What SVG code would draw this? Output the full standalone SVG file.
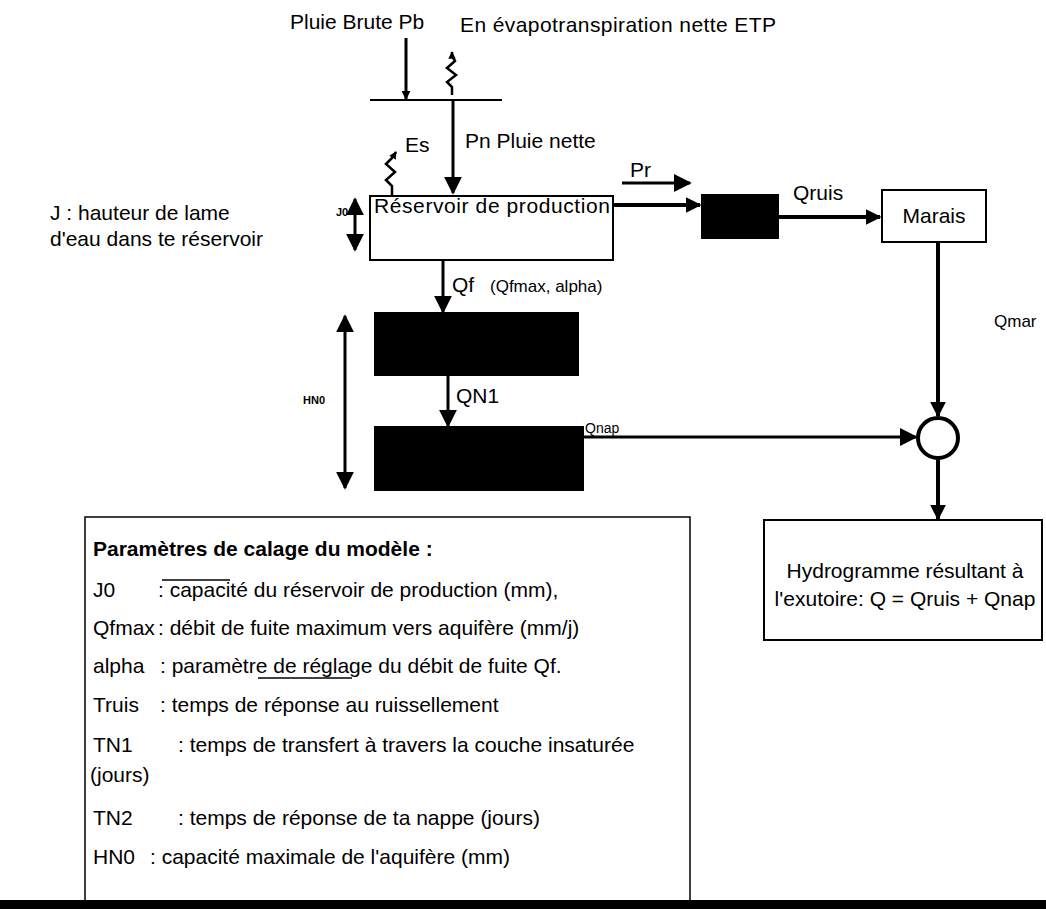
<svg xmlns="http://www.w3.org/2000/svg" width="1046" height="909" viewBox="0 0 1046 909">
<defs>
<style>
text{font-family:"Liberation Sans",Arial,sans-serif;fill:#000}
.t{font-size:21px}
.s{font-size:17px}
.q{font-size:14px}
.xs{font-size:11px;font-weight:bold}
.b{font-weight:bold}
.ln{stroke:#000;fill:none}
.box{fill:#fff;stroke:#000;stroke-width:2}
.blk{fill:#000;stroke:#000;stroke-width:2}
</style>
<marker id="ah" viewBox="0 0 10 10" refX="9" refY="5" markerWidth="4" markerHeight="4" orient="auto-start-reverse" markerUnits="strokeWidth"><path d="M0,0 L10,5 L0,10 z" fill="#000"/></marker>
<marker id="ahs" viewBox="0 0 10 10" refX="9" refY="5" markerWidth="6" markerHeight="6" orient="auto-start-reverse" markerUnits="strokeWidth"><path d="M0,0 L10,5 L0,10 z" fill="#000"/></marker>
<marker id="aht" viewBox="0 0 10 10" refX="9" refY="5" markerWidth="3" markerHeight="3" orient="auto" markerUnits="strokeWidth"><path d="M0,0 L10,5 L0,10 z" fill="#000"/></marker>
</defs>

<g id="inputs">
<text class="t" x="290" y="29">Pluie Brute Pb</text>
<text class="t" x="460" y="32" textLength="316" lengthAdjust="spacing">En évapotranspiration nette ETP</text>
<line class="ln" x1="406" y1="38" x2="406" y2="99" stroke-width="3" marker-end="url(#aht)"/>
<path class="ln" stroke-width="2.5" d="M452,95 L452,87 L447,82 L456,75 L447,68 L455,61 L452,56 L452,52" marker-end="url(#aht)"/>
<line class="ln" x1="370" y1="100" x2="502" y2="100" stroke-width="2"/>
</g>

<g id="reservoir">
<rect class="box" x="370" y="196" width="243" height="64"/>
<text class="t" x="374" y="213" textLength="236" lengthAdjust="spacing">Réservoir de production</text>
<text class="t" x="405" y="152">Es</text>
<path class="ln" stroke-width="2.5" d="M392,196 L392,186 L386,180 L395,172 L386,164 L393,157 L396,152" marker-end="url(#aht)"/>
<text class="t" x="465" y="148">Pn Pluie nette</text>
<text class="xs" x="336" y="216">J0</text>
<line class="ln" x1="355" y1="199" x2="355" y2="250" stroke-width="3" marker-start="url(#ahs)" marker-end="url(#ahs)"/>
<text class="t" x="50" y="220">J : hauteur de lame</text>
<text class="t" x="50" y="246">d'eau dans te réservoir</text>
</g>

<g id="truis">
<rect class="blk" x="702" y="195" width="76" height="43"/>
</g>

<g id="marais">
<rect class="box" x="882" y="190" width="104" height="52"/>
<text class="t" x="934" y="223" text-anchor="middle">Marais</text>
</g>

<g id="nappe1">
<rect class="blk" x="375" y="313" width="203" height="62"/>
</g>

<g id="nappe2">
<rect class="blk" x="375" y="427" width="208" height="63"/>
</g>

<g id="jonction">
<circle cx="938" cy="438" r="20" fill="#fff" stroke="#000" stroke-width="4"/>
</g>

<g id="hydrogramme">
<rect class="box" x="764" y="520" width="278" height="120"/>
<text class="t" x="905" y="578" text-anchor="middle">Hydrogramme résultant à</text>
<text class="t" x="905" y="606" text-anchor="middle">l'exutoire: Q = Qruis + Qnap</text>
</g>

<g id="connecteurs">
<line class="ln" x1="453" y1="100" x2="453" y2="193" stroke-width="3" marker-end="url(#ahs)"/>
<line class="ln" x1="622" y1="183" x2="690" y2="183" stroke-width="3" marker-end="url(#ahs)"/>
<text class="t" x="630" y="177">Pr</text>
<line class="ln" x1="613" y1="205" x2="700" y2="205" stroke-width="4" marker-end="url(#ah)"/>
<line class="ln" x1="778" y1="217" x2="880" y2="217" stroke-width="4" marker-end="url(#ah)"/>
<text class="t" x="793" y="200">Qruis</text>
<line class="ln" x1="938" y1="242" x2="938" y2="416" stroke-width="4" marker-end="url(#ah)"/>
<text class="s" x="994" y="327">Qmar</text>
<line class="ln" x1="583" y1="437" x2="916" y2="437" stroke-width="3" marker-end="url(#ahs)"/>
<text class="q" x="585" y="433">Qnap</text>
<line class="ln" x1="938" y1="458" x2="938" y2="519" stroke-width="4" marker-end="url(#ah)"/>
<line class="ln" x1="443" y1="260" x2="443" y2="312" stroke-width="3" marker-end="url(#ahs)"/>
<text class="t" x="452" y="292">Qf</text>
<text class="s" x="490" y="292">(Qfmax, alpha)</text>
<line class="ln" x1="448" y1="375" x2="448" y2="426" stroke-width="3" marker-end="url(#ahs)"/>
<text class="t" x="456" y="403">QN1</text>
<line class="ln" x1="345" y1="316" x2="345" y2="488" stroke-width="3" marker-start="url(#ahs)" marker-end="url(#ahs)"/>
<text class="xs" x="303" y="404">HN0</text>
</g>

<g id="legende">
<rect x="85" y="517" width="605" height="386" fill="#fff" stroke="#000" stroke-width="1.5"/>
<text class="t b" x="93" y="556">Paramètres de calage du modèle :</text>
<text class="t" x="93" y="597">J0</text><text class="t" x="158" y="597">: capacité du réservoir de production (mm),</text>
<line class="ln" x1="162" y1="580" x2="230" y2="580" stroke-width="1.5"/>
<text class="t" x="93" y="635">Qfmax</text><text class="t" x="158" y="635">: débit de fuite maximum vers aquifère (mm/j)</text>
<text class="t" x="93" y="673">alpha</text><text class="t" x="160" y="673">: paramètre de réglage du débit de fuite Qf.</text>
<line class="ln" x1="258" y1="678" x2="352" y2="678" stroke-width="1.5"/>
<text class="t" x="93" y="712">Truis</text><text class="t" x="160" y="712">: temps de réponse au ruissellement</text>
<text class="t" x="93" y="752">TN1</text><text class="t" x="178" y="752">: temps de transfert à travers la couche insaturée</text>
<text class="t" x="90" y="782">(jours)</text>
<text class="t" x="93" y="825">TN2</text><text class="t" x="178" y="825">: temps de réponse de ta nappe (jours)</text>
<text class="t" x="93" y="864">HN0</text><text class="t" x="150" y="864">: capacité maximale de l'aquifère (mm)</text>
</g>
<rect x="0" y="900" width="1046" height="9" fill="#000"/>
</svg>
